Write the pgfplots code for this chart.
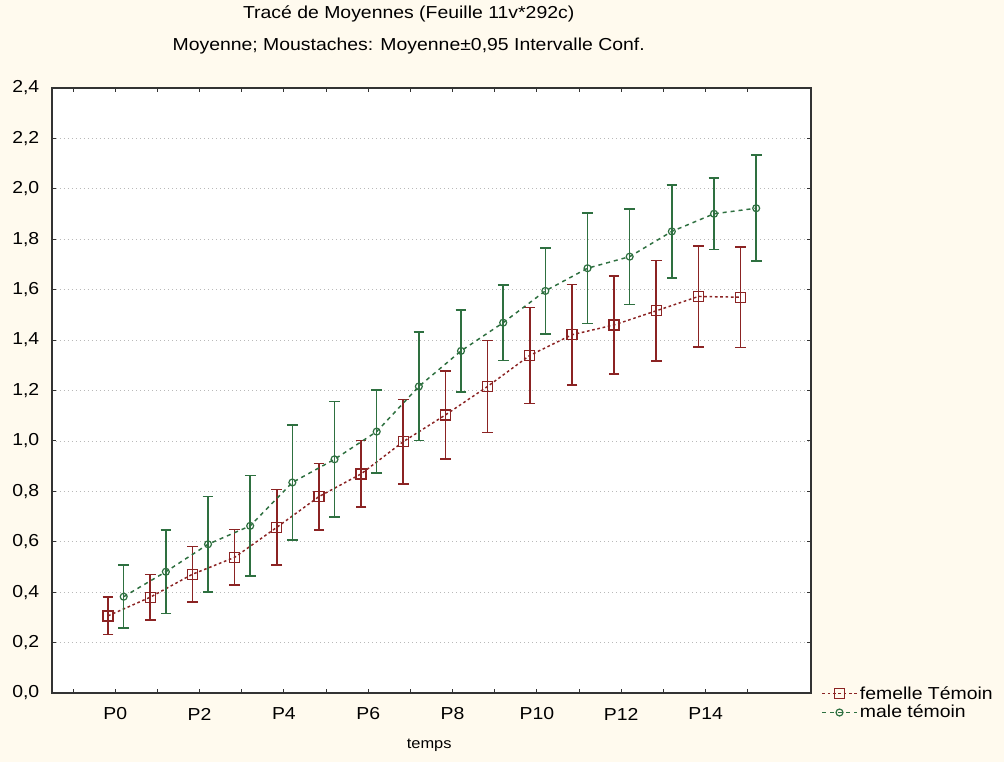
\documentclass[border=0pt]{standalone}
\usepackage{pgfplots}
\usepackage{pgfplotstable}
\pgfplotsset{compat=1.18}
\usepackage{fontspec}
\setmainfont{Liberation Sans}[FakeStretch=1.12]
\usetikzlibrary{backgrounds}

\definecolor{fem}{HTML}{8B2323}
\definecolor{mal}{HTML}{2E7040}
\definecolor{cream}{HTML}{FFFAEE}

% k  mean  half-width of 0.95 CI
\pgfplotstableread{
k  y      e
0  0.306  0.074
1  0.380  0.090
2  0.471  0.110
3  0.538  0.110
4  0.657  0.150
5  0.779  0.132
6  0.869  0.132
7  0.997  0.167
8  1.103  0.175
9  1.216  0.182
10 1.339  0.190
11 1.421  0.200
12 1.460  0.195
13 1.516  0.200
14 1.573  0.200
15 1.570  0.200
}\femelle

\pgfplotstableread{
k  y      e
0  0.382  0.125
1  0.481  0.165
2  0.590  0.190
3  0.663  0.200
4  0.835  0.227
5  0.927  0.230
6  1.037  0.165
7  1.216  0.215
8  1.357  0.163
9  1.469  0.150
10 1.595  0.171
11 1.685  0.220
12 1.731  0.190
13 1.831  0.184
14 1.901  0.142
15 1.923  0.210
}\male

\begin{document}
\begin{tikzpicture}
	\begin{axis}[
			name=ax,
			scale only axis,
			width=569.25pt,
			height=453.75pt,
			xmin=-1.5, xmax=16.5,
			ymin=0, ymax=2.4,
			axis background/.style={fill=white},
			axis line style={black!80, line width=0.9pt},
			xtick={0,2,...,14},
			xticklabels={P0,P2,P4,P6,P8,P10,P12,P14},
			minor xtick={-1,1,...,15},
			ytick={0,0.2,...,2.4},
			tick align=inside,
			major tick length=3pt,
			minor tick length=3pt,
			tick style={black!80, line width=0.8pt},
			ymajorgrids,
			major grid style={gray!55, dash pattern=on 1pt off 2pt, line width=0.6pt},
			/pgf/number format/.cd, fixed, fixed zerofill, precision=1, use comma, assume math mode=true,
			/pgfplots/.cd,
			ticklabel style={font=\fontsize{13}{15}\selectfont},
			yticklabel style={anchor=east, xshift=-6pt},
			xticklabel style={anchor=center, yshift=-15.75pt},
			xlabel={temps},
			xlabel style={at={(axis description cs:0.497,0)}, anchor=center, yshift=-39pt, font=\fontsize{11}{13}\selectfont},
			legend cell align=left,
			legend style={
				at={(1.012,0.018)}, anchor=north west,
				draw=none, fill=none,
				font=\fontsize{13}{14}\selectfont,
				row sep=-1pt, inner sep=1pt
			},
			legend image code/.code={\draw[mark repeat=2,mark phase=2] plot coordinates {(0cm,0cm)(0.45cm,0cm)(0.9cm,0cm)};},
			error bars/error bar style={line width=1.2pt, solid},
			error bars/error mark options={rotate=90, mark size=4pt, line width=1.2pt, solid},
		]

		\addplot[
			color=fem, line width=1.1pt, dash pattern=on 2pt off 2pt,
			mark=square, mark size=3.75pt, mark options={solid, fill=white, line width=1pt},
			error bars/.cd, y dir=both, y explicit,
		] table[x expr=\thisrow{k}-0.17, y=y, y error=e] {\femelle};
		\addlegendentry{femelle Témoin}

		\addplot[
			color=mal, line width=1.1pt, dash pattern=on 3pt off 3pt,
			mark=o, mark size=2.6pt, mark options={solid, fill=white, line width=0.9pt},
			error bars/.cd, y dir=both, y explicit,
		] table[x expr=\thisrow{k}+0.2, y=y, y error=e] {\male};
		\addlegendentry{male témoin}
	\end{axis}

	\node[font=\fontsize{13}{15}\selectfont, anchor=base] at ([xshift=267.5pt, yshift=51.75pt]ax.north west) {Tracé de Moyennes (Feuille 11v*292c)};
	\node[font=\fontsize{13}{15}\selectfont, anchor=base] at ([xshift=267.5pt, yshift=28pt]ax.north west) {Moyenne; Moustaches: Moyenne±0,95 Intervalle Conf.};

	\begin{pgfonlayer}{background}
		\fill[cream] ([shift={(-39pt,-51.75pt)}]ax.south west) rectangle ([shift={(714pt,519.75pt)}]ax.south west);
	\end{pgfonlayer}
	\pgfresetboundingbox
	\path ([shift={(-39pt,-51.75pt)}]ax.south west) rectangle ([shift={(714pt,519.75pt)}]ax.south west);
\end{tikzpicture}
\end{document}
